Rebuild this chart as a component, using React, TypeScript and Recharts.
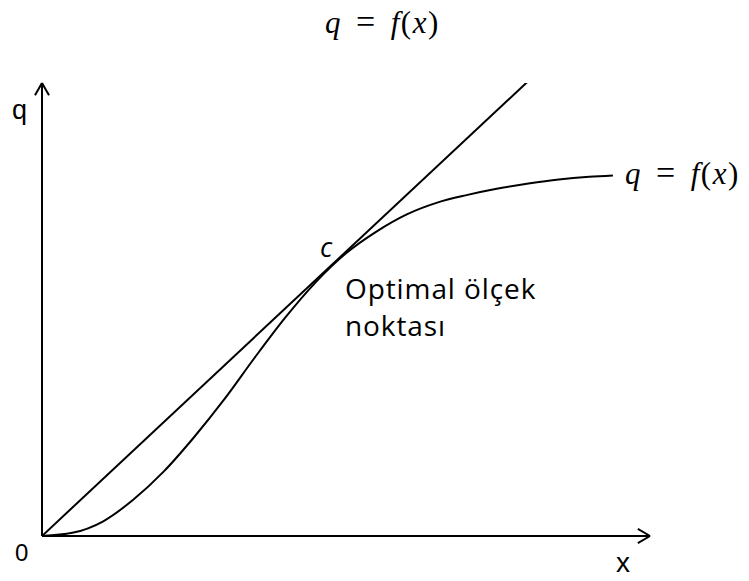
import { LineChart, Line, XAxis, YAxis, ReferenceLine } from "recharts";

// production curve q = f(x) (x and q in axis units 0..10)
const curveX = [0, 0.5, 1.0, 1.5, 2.0, 2.5, 3.0, 3.5, 4.0, 4.5, 5.0, 5.5, 6.0, 6.5, 7.0, 7.5, 8.0, 8.5, 9.0, 9.39];
const curveQ = [0, 0.07, 0.32, 0.8, 1.42, 2.18, 3.02, 3.94, 4.82, 5.6, 6.24, 6.72, 7.1, 7.36, 7.53, 7.67, 7.78, 7.87, 7.93, 7.96];

// ray from the origin through the optimal scale point c
const rayX = [0, 7.98];
const rayQ = [0, 10.02];

const curveData = curveX.map((x, i) => ({ x, q: curveQ[i] }));
const rayData = rayX.map((x, i) => ({ x, q: rayQ[i] }));

const W = 749;
const H = 581;
const margin = { top: 83, right: 99, bottom: 45, left: 42 };

const mathFont = '"Liberation Serif", "DejaVu Serif", serif';
const sansFont = '"Liberation Sans", Arial, sans-serif';
const labelFont = '"Open Sans", Lato, sans-serif';

function MathLabel({ left, top }: { left: number; top: number }) {
  return (
    <div style={{ position: "absolute", left, top, fontFamily: mathFont, fontSize: 31, whiteSpace: "nowrap", lineHeight: 1, letterSpacing: 1.5 }}>
      <i>q</i>
      <span style={{ margin: "0 14px", fontSize: 34 }}>=</span>
      <i>f</i>(<i>x</i>)
    </div>
  );
}

const axisStroke = { stroke: "#000", strokeWidth: 2, ifOverflow: "visible" as const };

export default function App() {
  return (
    <div style={{ position: "absolute", left: 0, top: 0, width: W, height: H, background: "#fff" }}>
      <LineChart width={W} height={H} margin={margin}>
        <XAxis type="number" dataKey="x" domain={[0, 10]} hide allowDataOverflow />
        <YAxis type="number" dataKey="q" domain={[0, 10]} hide allowDataOverflow />
        {/* axes */}
        <ReferenceLine y={0} {...axisStroke} />
        <ReferenceLine x={0} {...axisStroke} />
        {/* arrow heads */}
        <ReferenceLine segment={[{ x: 9.8, y: 0.155 }, { x: 10, y: 0 }]} {...axisStroke} />
        <ReferenceLine segment={[{ x: 9.8, y: -0.155 }, { x: 10, y: 0 }]} {...axisStroke} />
        <ReferenceLine segment={[{ x: -0.115, y: 9.73 }, { x: 0, y: 10 }]} {...axisStroke} />
        <ReferenceLine segment={[{ x: 0.115, y: 9.73 }, { x: 0, y: 10 }]} {...axisStroke} />
        <Line data={rayData} dataKey="q" type="linear" stroke="#000" strokeWidth={2} dot={false} isAnimationActive={false} />
        <Line data={curveData} dataKey="q" type="monotone" stroke="#000" strokeWidth={2} dot={false} isAnimationActive={false} />
      </LineChart>

      <MathLabel left={325} top={5} />
      <MathLabel left={625} top={156} />

      <div style={{ position: "absolute", left: 12, top: 95, fontFamily: sansFont, fontSize: 27 }}>q</div>
      <div style={{ position: "absolute", left: 15, top: 539, fontFamily: sansFont, fontSize: 24 }}>0</div>
      <div style={{ position: "absolute", left: 616, top: 547, fontFamily: sansFont, fontSize: 28 }}>x</div>

      <div style={{ position: "absolute", left: 320, top: 228, fontFamily: labelFont, fontSize: 27, fontStyle: "italic" }}>c</div>
      <div style={{ position: "absolute", left: 345, top: 270, fontFamily: labelFont, fontSize: 28, lineHeight: "37px", letterSpacing: 0.9 }}>
        Optimal ölçek
        <br />
        noktası
      </div>
    </div>
  );
}
